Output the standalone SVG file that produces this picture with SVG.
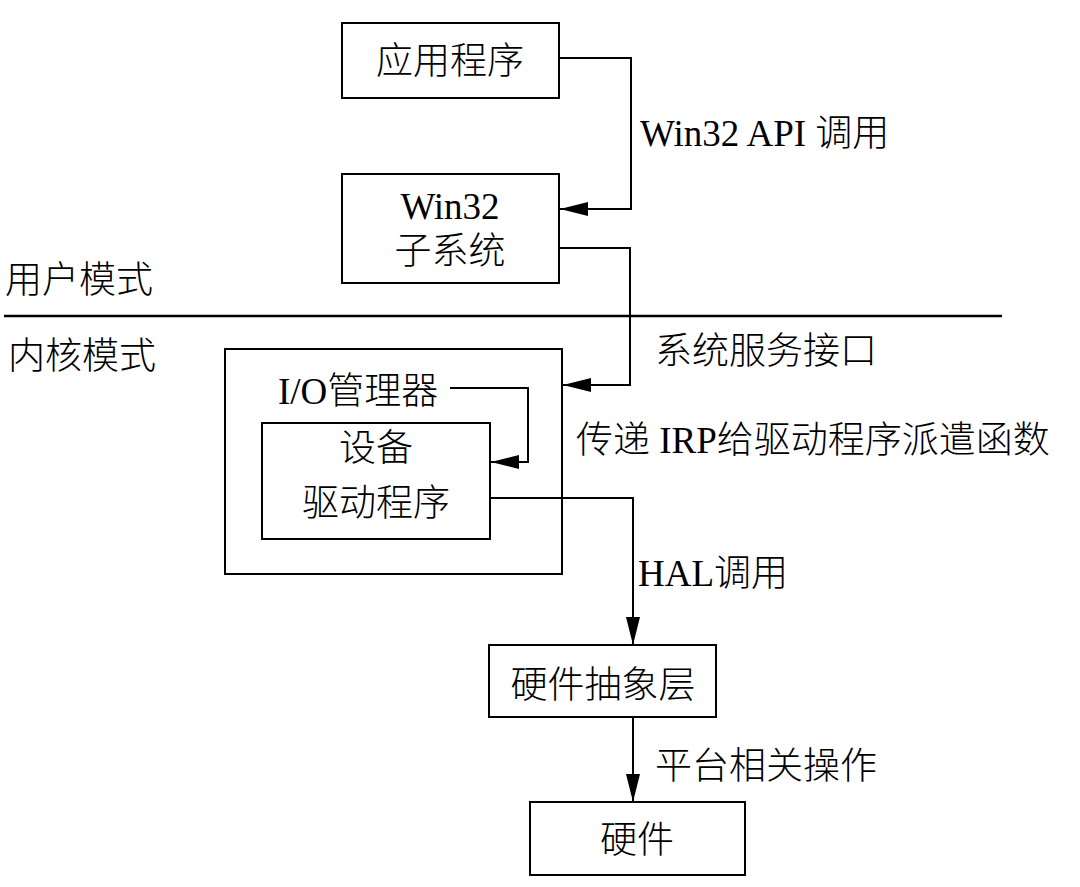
<svg xmlns="http://www.w3.org/2000/svg" width="1080" height="887" viewBox="0 0 1080 887">
<style>
.b{fill:#fff;stroke:#000;stroke-width:2}
.c{fill:none;stroke:#000;stroke-width:2}
text{font-family:"Liberation Serif","Noto Sans CJK SC",serif;font-size:37px;font-weight:300;fill:#000}
.m{text-anchor:middle}
</style>
<defs>
<marker id="a" markerWidth="28" markerHeight="14" refX="28" refY="7" orient="auto" markerUnits="userSpaceOnUse">
<path d="M0,0 L28,7 L0,14 Z" fill="#000"/>
</marker>
</defs>
<rect width="1080" height="887" fill="#fff"/>
<g id="mode-line">
<line x1="4" y1="316" x2="1002" y2="316" stroke="#000" stroke-width="2.5"/>
<text x="5" y="293">用户模式</text>
<text x="8" y="369">内核模式</text>
</g>
<g id="app"><rect class="b" x="342" y="23" width="217" height="75"/><text class="m" x="450" y="74">应用程序</text></g>
<g id="win32"><rect class="b" x="342" y="174" width="217" height="109"/><text class="m" x="450" y="219">Win32</text><text class="m" x="450" y="264">子系统</text></g>
<g id="io"><rect class="b" x="225" y="349" width="337" height="225"/><text x="278" y="404">I/O管理器</text></g>
<g id="driver"><rect class="b" x="262" y="423" width="228" height="116"/><text class="m" x="376" y="461">设备</text><text class="m" x="376" y="516">驱动程序</text></g>
<g id="hal"><rect class="b" x="489" y="645" width="227" height="72"/><text class="m" x="603" y="698">硬件抽象层</text></g>
<g id="hw"><rect class="b" x="530" y="802" width="215" height="73"/><text class="m" x="637" y="853">硬件</text></g>
<g id="connectors">
<path class="c" d="M559,58 H631 V209 H560" marker-end="url(#a)"/>
<path class="c" d="M559,248 H630 V385 H563" marker-end="url(#a)"/>
<path class="c" d="M450,388 H528 V462 H491" marker-end="url(#a)"/>
<path class="c" d="M490,498 H633 V645" marker-end="url(#a)"/>
<path class="c" d="M633,717 V802" marker-end="url(#a)"/>
</g>
<g id="labels">
<text x="640" y="146">Win32 API 调用</text>
<text x="655" y="364">系统服务接口</text>
<text x="576" y="453">传递 IRP给驱动程序派遣函数</text>
<text x="638" y="586">HAL调用</text>
<text x="655" y="779">平台相关操作</text>
</g>
</svg>
